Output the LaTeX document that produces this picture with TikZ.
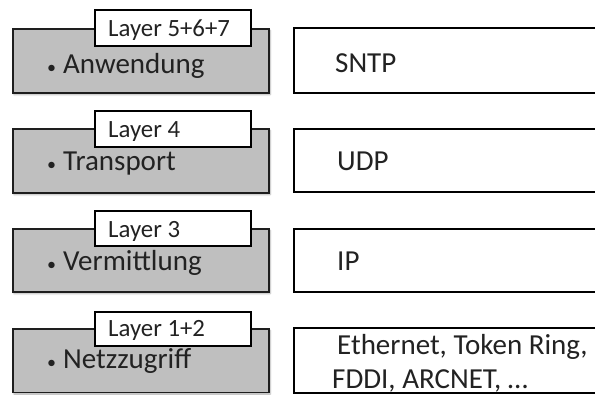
\documentclass[tikz,border=0pt]{standalone}
\usepackage{fontspec}
\setmainfont{Carlito}
\usetikzlibrary{shadows.blur}
\definecolor{layergray}{HTML}{BFBFBF}
\definecolor{edgecol}{HTML}{1E1E1E}
\definecolor{txtcol}{HTML}{222222}
\tikzset{
  graybox/.style={draw=edgecol, line width=1.8pt, fill=layergray,
    blur shadow={shadow xshift=1pt, shadow yshift=-1.5pt, shadow blur steps=4, shadow opacity=35}},
  tagbox/.style={draw=black, line width=2pt, fill=white},
  protobox/.style={draw=black, line width=2pt, fill=white},
  maintxt/.style={inner sep=0pt, anchor=base west, text=txtcol, font=\fontsize{29}{34}\selectfont},
  tagtxt/.style={inner sep=0pt, anchor=base west, text=txtcol, font=\fontsize{24.8}{28}\selectfont},
}
\newcommand{\bul}{\makebox[16pt][l]{\fontsize{18}{18}\selectfont•}}
\begin{document}
\begin{tikzpicture}[x=1pt,y=-1pt]
\useasboundingbox (0,0) rectangle (595,394);
\clip (0,0) rectangle (595,394);
% layer 5+6+7
\path[graybox] (13,29) rectangle (269,93);
\path[tagbox] (95,10) rectangle (251,46);
\node[tagtxt] (t1) at (108,36) {Layer 5+6+7};
\node[maintxt] (m1) at (47,73) {\bul Anwendung};
\path[protobox] (294,28) rectangle (610,93);
\node[maintxt] (p1) at (335,72) {SNTP};
% layer 4
\path[graybox] (13,129) rectangle (269,193);
\path[tagbox] (95,111) rectangle (251,147);
\node[tagtxt] (t2) at (108,137) {Layer 4};
\node[maintxt] (m2) at (47,170) {\bul Transport};
\path[protobox] (294,129) rectangle (610,192);
\node[maintxt] (p2) at (337,170) {UDP};
% layer 3
\path[graybox] (13,229) rectangle (269,292);
\path[tagbox] (95,211) rectangle (251,246);
\node[tagtxt] (t3) at (108,237) {Layer 3};
\node[maintxt] (m3) at (47,270) {\bul Vermittlung};
\path[protobox] (294,229) rectangle (610,292);
\node[maintxt] (p3) at (337,270) {IP};
% layer 1+2
\path[graybox] (13,329) rectangle (269,392.5);
\path[tagbox] (95,312) rectangle (251,346);
\node[tagtxt] (t4) at (108,336) {Layer 1+2};
\node[maintxt] (m4) at (47,368) {\bul Netzzugriff};
\path[protobox] (294,328) rectangle (610,392.5);
\node[maintxt] (p4a) at (337,354) {Ethernet, Token Ring,};
\node[maintxt] (p4b) at (332,388) {FDDI, ARCNET, …};
\end{tikzpicture}
\end{document}
